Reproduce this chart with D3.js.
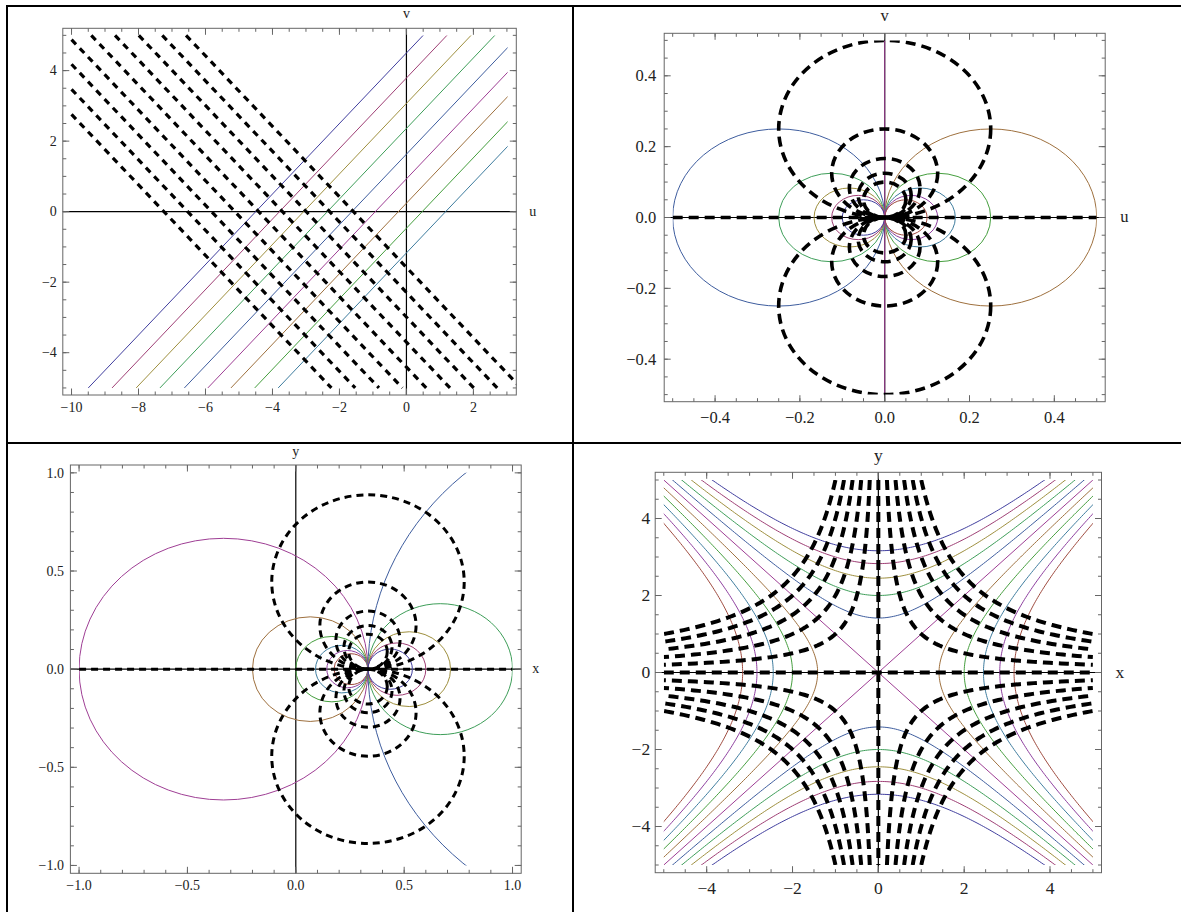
<!DOCTYPE html>
<html>
<head>
<meta charset="utf-8">
<script src="https://cdn.jsdelivr.net/npm/d3@7"></script>
<style>
    body { margin: 0; background: #fff; }
</style>
</head>
<body>
<div id="chart"></div>
<script>
// default plot colours, in the order the curves were drawn
const palette = ["#403e9e", "#9e3e74", "#9e8f3e", "#3e9e59", "#3e5d9e", "#9e3e94",
                 "#9e703e", "#459e3e", "#3e7c9e", "#8d3e9e", "#9e4a3e"];

// panel 1 (u, v): lines v = u + c (solid) and v = -u + d (dashed)
const p1SolidIntercepts = [4.50, 3.79, 3.07, 2.36, 1.63, 0.93, 0.24, -0.47, -1.17];
const p1SolidColors = [0, 1, 2, 3, 4, 5, 6, 7, 8];
const p1DashedIntercepts = [-1.58, -2.29, -2.99, -3.70, -4.41, -5.12, -5.82, -6.53, -7.24];
const p1URange = [-10, 3.02];
const p1VRange = [-5, 5];
const p1XTicks = [-10, -8, -6, -4, -2, 0, 2];
const p1YTicks = [-4, -2, 0, 2, 4];

// panel 2 (u, v): circles through the origin
const p2Radii = [0.25, 0.125, 0.0833, 0.0625, 0.05];
const p2LeftColors = [4, 3, 2, 1, 0];
const p2RightColors = [6, 7, 8, 9, 10];
const p2AxisColor = 5;
const p2Range = [-0.5, 0.5];
const p2Ticks = [-0.4, -0.2, 0.0, 0.2, 0.4];

// panel 3 (x, y): circles through (1/3, 0)
const p3Pivot = 0.333;
const p3SolidEnds = [0.176, 0.143, 0.091, 0.0, -0.2, -1.0, 3.0, 1.0, 0.714, 0.6, 0.538];
const p3SolidColors = [10, 9, 8, 7, 6, 5, 4, 3, 2, 1, 0];
const p3DashedRadii = [0.444, 0.222, 0.148, 0.111, 0.089];
const p3Range = [-1, 1];
const p3Ticks = [-1.0, -0.5, 0.0, 0.5, 1.0];

// panel 4 (x, y): hyperbolas x^2 - y^2 = c (solid) and xy = c (dashed)
const p4SolidLevels = [-10, -8, -6, -4, -2, 0, 2, 4, 6, 8, 10];
const p4DashedLevels = [-5, -4, -3, -2, -1, 0, 1, 2, 3, 4, 5];
const p4Range = [-5, 5];
const p4Ticks = [-4, -2, 0, 2, 4];

const fmt0 = d => (d < 0 ? "\u2212" : "") + Math.abs(d).toFixed(0);
const fmt1 = d => (d < -1e-9 ? "\u2212" : "") + Math.abs(d).toFixed(1);

const serif = "'Liberation Serif', 'DejaVu Serif', 'Times New Roman', serif";

class FieldPlot {

    constructor(svg, cfg) {
        this.svg = svg;
        this.cfg = cfg;
        this.initVis();
    }

    initVis() {
        let vis = this;
        let c = vis.cfg;
        let f = c.frame;

        // plot range padded by 2% like the original
        const pad = r => [r[0] - 0.02 * (r[1] - r[0]), r[1] + 0.02 * (r[1] - r[0])];
        vis.x = d3.scaleLinear().domain(pad(c.xRange)).range([f.left, f.right]);
        vis.y = d3.scaleLinear().domain(pad(c.yRange)).range([f.bottom, f.top]);

        vis.g = vis.svg.append("g");

        vis.g.append("clipPath").attr("id", "frame" + c.id)
            .append("rect")
            .attr("x", f.left).attr("y", f.top)
            .attr("width", f.right - f.left).attr("height", f.bottom - f.top);

        vis.g.append("clipPath").attr("id", "range" + c.id)
            .append("rect")
            .attr("x", vis.x(c.xRange[0])).attr("y", vis.y(c.yRange[1]))
            .attr("width", vis.x(c.xRange[1]) - vis.x(c.xRange[0]))
            .attr("height", vis.y(c.yRange[0]) - vis.y(c.yRange[1]));

        // axes through the origin
        let axes = vis.g.append("g").attr("stroke", "#000").attr("stroke-width", 1.2);
        axes.append("line")
            .attr("x1", f.left).attr("x2", f.right)
            .attr("y1", vis.y(0)).attr("y2", vis.y(0));
        axes.append("line")
            .attr("x1", vis.x(0)).attr("x2", vis.x(0))
            .attr("y1", f.top).attr("y2", f.bottom);

        vis.solid = vis.g.append("g")
            .attr("clip-path", `url(#${c.solidClip || "range"}${c.id})`)
            .attr("fill", "none").attr("stroke-width", 1);
        vis.dashed = vis.g.append("g")
            .attr("clip-path", `url(#${c.dashClip || "range"}${c.id})`)
            .attr("fill", "none").attr("stroke", "#000")
            .attr("stroke-width", c.dashWidth)
            .attr("stroke-dasharray", c.dash);

        vis.lineGen = d3.line().x(d => vis.x(d[0])).y(d => vis.y(d[1]));

        vis.drawFrame();
        c.draw(vis);
    }

    path(layer, pts, color) {
        let p = layer.append("path").attr("d", this.lineGen(pts));
        if (color !== undefined) p.attr("stroke", palette[color]);
        return p;
    }

    circle(layer, cx, cy, r, color) {
        let vis = this;
        let e = layer.append("ellipse")
            .attr("cx", vis.x(cx)).attr("cy", vis.y(cy))
            .attr("rx", Math.abs(vis.x(r) - vis.x(0)))
            .attr("ry", Math.abs(vis.y(r) - vis.y(0)));
        if (color !== undefined) e.attr("stroke", palette[color]);
        return e;
    }

    drawFrame() {
        let vis = this;
        let c = vis.cfg;
        let f = c.frame;

        let frame = vis.g.append("g").attr("stroke", "#666").attr("stroke-width", 1);
        frame.append("rect")
            .attr("x", f.left).attr("y", f.top)
            .attr("width", f.right - f.left).attr("height", f.bottom - f.top)
            .attr("fill", "none");

        const minors = (scale, step) => {
            let [d0, d1] = scale.domain();
            return d3.range(Math.ceil(d0 / step - 1e-9), Math.floor(d1 / step + 1e-9) + 1)
                .map(i => i * step);
        };

        const tickX = (vals, len) => vals.forEach(v => {
            let px = vis.x(v);
            frame.append("line").attr("x1", px).attr("x2", px).attr("y1", f.bottom).attr("y2", f.bottom - len);
            frame.append("line").attr("x1", px).attr("x2", px).attr("y1", f.top).attr("y2", f.top + len);
        });
        const tickY = (vals, len) => vals.forEach(v => {
            let py = vis.y(v);
            frame.append("line").attr("y1", py).attr("y2", py).attr("x1", f.left).attr("x2", f.left + len);
            frame.append("line").attr("y1", py).attr("y2", py).attr("x1", f.right).attr("x2", f.right - len);
        });

        tickX(c.xTicks, 6.5);
        tickY(c.yTicks, 6.5);
        tickX(minors(vis.x, c.xMinor), 3.5);
        tickY(minors(vis.y, c.yMinor), 3.5);

        let labels = vis.g.append("g")
            .attr("font-family", serif)
            .attr("font-size", c.fontSize)
            .attr("fill", "#222");

        // tick labels
        labels.append("g").selectAll("text")
            .data(c.xTicks).enter().append("text")
            .attr("x", d => vis.x(d))
            .attr("y", f.bottom + c.xLabelOffset)
            .attr("text-anchor", "middle")
            .text(c.fmt);

        labels.append("g").selectAll("text")
            .data(c.yTicks).enter().append("text")
            .attr("x", f.left - c.yLabelGap)
            .attr("y", d => vis.y(d))
            .attr("dy", "0.34em")
            .attr("text-anchor", "end")
            .text(c.fmt);

        // axis names
        labels.append("text")
            .attr("x", vis.x(0)).attr("y", f.top - c.nameTop)
            .attr("text-anchor", "middle")
            .text(c.yName);
        labels.append("text")
            .attr("x", f.right + c.nameRight).attr("y", vis.y(0))
            .attr("dy", "0.3em")
            .text(c.xName);
    }
}

const svg = d3.select("#chart").append("svg")
    .attr("width", 1181)
    .attr("height", 912);

// table rules
let rules = svg.append("g").attr("stroke", "#000").attr("stroke-width", 2);
rules.append("line").attr("x1", 7).attr("x2", 7).attr("y1", 5).attr("y2", 912);
rules.append("line").attr("x1", 6).attr("x2", 1181).attr("y1", 6).attr("y2", 6);
rules.append("line").attr("x1", 573).attr("x2", 573).attr("y1", 5).attr("y2", 912);
rules.append("line").attr("x1", 6).attr("x2", 1181).attr("y1", 443).attr("y2", 443);

// panel 1
new FieldPlot(svg, {
    id: 1,
    frame: {left: 62.8, right: 516.3, top: 28.3, bottom: 395},
    xRange: p1URange, yRange: p1VRange,
    xTicks: p1XTicks, yTicks: p1YTicks, xMinor: 0.5, yMinor: 0.5,
    fmt: fmt0, fontSize: 14, xLabelOffset: 17, yLabelGap: 6,
    xName: "u", yName: "v", nameTop: 10, nameRight: 13,
    dash: "6.5,5.5", dashWidth: 3.2, solidClip: "range", dashClip: "frame",
    draw: vis => {
        let [v0, v1] = p1VRange;
        p1SolidIntercepts.forEach((c, i) =>
            vis.path(vis.solid, [[v0 - c, v0], [v1 - c, v1]], p1SolidColors[i]));
        p1DashedIntercepts.forEach(d => {
            // dashed lines start at u = -10
            let pts = [[d - v1, v1], [d - v0, v0]];
            if (pts[0][0] < p1URange[0]) pts[0] = [p1URange[0], d - p1URange[0]];
            vis.path(vis.dashed, pts);
        });
    }
});

// panel 2
new FieldPlot(svg, {
    id: 2,
    frame: {left: 664.2, right: 1105.2, top: 33.3, bottom: 401.7},
    xRange: p2Range, yRange: p2Range,
    xTicks: p2Ticks, yTicks: p2Ticks, xMinor: 0.05, yMinor: 0.05,
    fmt: fmt1, fontSize: 16.5, xLabelOffset: 21, yLabelGap: 8,
    xName: "u", yName: "v", nameTop: 12, nameRight: 15,
    dash: "10,6", dashWidth: 3.6,
    draw: vis => {
        p2Radii.forEach((r, i) => {
            vis.circle(vis.solid, -r, 0, r, p2LeftColors[i]);
            vis.circle(vis.solid, r, 0, r, p2RightColors[i]);
        });
        vis.path(vis.solid, [[0, p2Range[0]], [0, p2Range[1]]], p2AxisColor);
        p2Radii.forEach(r => {
            vis.circle(vis.dashed, 0, r, r);
            vis.circle(vis.dashed, 0, -r, r);
        });
        vis.path(vis.dashed, [[p2Range[0], 0], [p2Range[1], 0]]);
    }
});

// panel 3
new FieldPlot(svg, {
    id: 3,
    frame: {left: 70.4, right: 521.2, top: 465, bottom: 873.3},
    xRange: p3Range, yRange: p3Range,
    xTicks: p3Ticks, yTicks: p3Ticks, xMinor: 0.1, yMinor: 0.1,
    fmt: fmt1, fontSize: 14, xLabelOffset: 17, yLabelGap: 6.5,
    xName: "x", yName: "y", nameTop: 9, nameRight: 11,
    dash: "7,5", dashWidth: 3,
    draw: vis => {
        p3SolidEnds.forEach((e, i) =>
            vis.circle(vis.solid, (e + p3Pivot) / 2, 0, Math.abs(e - p3Pivot) / 2, p3SolidColors[i]));
        p3DashedRadii.forEach(r => {
            vis.circle(vis.dashed, p3Pivot, r, r);
            vis.circle(vis.dashed, p3Pivot, -r, r);
        });
        vis.path(vis.dashed, [[p3Range[0], 0], [p3Range[1], 0]]);
    }
});

// panel 4
new FieldPlot(svg, {
    id: 4,
    frame: {left: 655.2, right: 1101.5, top: 472.3, bottom: 872.7},
    xRange: p4Range, yRange: p4Range,
    xTicks: p4Ticks, yTicks: p4Ticks, xMinor: 0.5, yMinor: 0.5,
    fmt: fmt0, fontSize: 17.5, xLabelOffset: 21.5, yLabelGap: 5,
    xName: "x", yName: "y", nameTop: 11, nameRight: 14,
    dash: "10,6", dashWidth: 4,
    draw: vis => {
        let [a, b] = p4Range;
        let s = d3.range(a, b + 1e-9, 0.05);
        p4SolidLevels.forEach((c, i) => {
            if (c === 0) {
                vis.path(vis.solid, [[a, a], [b, b]], i);
                vis.path(vis.solid, [[a, b], [b, a]], i);
            } else if (c > 0) {
                vis.path(vis.solid, s.map(y => [Math.sqrt(c + y * y), y]), i);
                vis.path(vis.solid, s.map(y => [-Math.sqrt(c + y * y), y]), i);
            } else {
                vis.path(vis.solid, s.map(x => [x, Math.sqrt(x * x - c)]), i);
                vis.path(vis.solid, s.map(x => [x, -Math.sqrt(x * x - c)]), i);
            }
        });
        let t = d3.range(0, 1.0001, 0.01);
        p4DashedLevels.forEach(c => {
            if (c === 0) {
                vis.path(vis.dashed, [[a, 0], [b, 0]]);
                vis.path(vis.dashed, [[0, b], [0, a]]);
                return;
            }
            let lo = Math.abs(c) / b;
            let xs = t.map(k => lo * Math.pow(b / lo, k));
            vis.path(vis.dashed, xs.map(x => [x, c / x]));
            vis.path(vis.dashed, xs.map(x => [-x, -c / x]));
        });
    }
});
</script>
</body>
</html>
